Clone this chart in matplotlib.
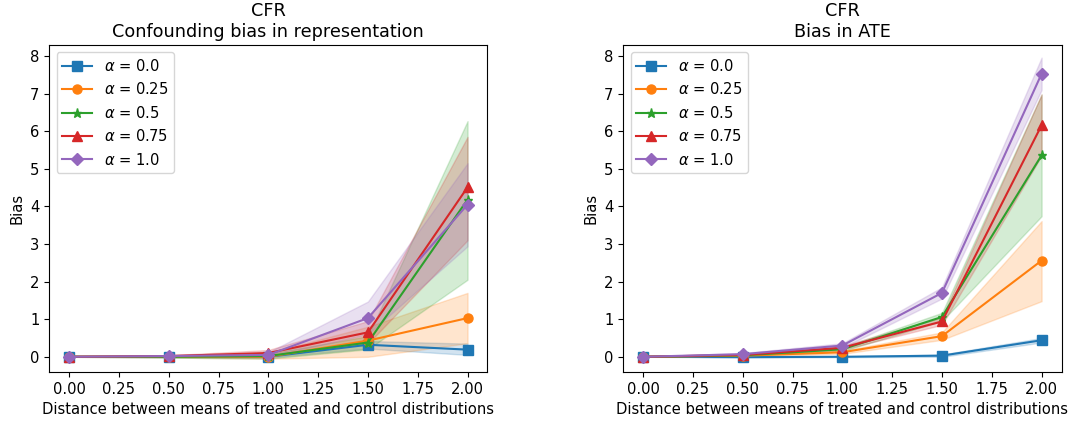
import numpy as np
import matplotlib
matplotlib.use("Agg")
import matplotlib.pyplot as plt

plt.rcParams["font.size"] = 10.6

distances = [0.0, 0.5, 1.0, 1.5, 2.0]
alphas = [0.0, 0.25, 0.5, 0.75, 1.0]
markers = ["s", "o", "*", "^", "D"]

# confounding bias in representation: mean, lower, upper per alpha
rep_mean = [
    [0.0, 0.0, 0.0, 0.32, 0.19],
    [0.0, 0.0, 0.0, 0.43, 1.03],
    [0.0, 0.0, 0.02, 0.38, 4.18],
    [0.0, 0.02, 0.10, 0.65, 4.51],
    [0.0, 0.02, 0.05, 1.03, 4.05],
]
rep_low = [
    [0.0, -0.02, -0.02, 0.22, 0.05],
    [0.0, -0.02, -0.05, 0.0, 0.36],
    [0.0, -0.02, -0.05, 0.2, 2.05],
    [0.0, 0.0, 0.02, 0.35, 3.10],
    [0.0, 0.0, 0.0, 0.60, 2.94],
]
rep_high = [
    [0.0, 0.02, 0.02, 0.42, 0.35],
    [0.0, 0.02, 0.10, 0.80, 1.70],
    [0.0, 0.02, 0.08, 0.55, 6.27],
    [0.0, 0.04, 0.18, 0.95, 5.85],
    [0.0, 0.04, 0.12, 1.47, 5.15],
]

# bias in ATE
ate_mean = [
    [0.0, -0.01, 0.0, 0.03, 0.44],
    [0.0, 0.03, 0.12, 0.55, 2.56],
    [0.0, 0.04, 0.20, 1.06, 5.36],
    [0.0, 0.05, 0.24, 0.94, 6.16],
    [0.0, 0.07, 0.30, 1.70, 7.53],
]
ate_low = [
    [0.0, -0.02, -0.01, 0.0, 0.38],
    [0.0, 0.01, 0.08, 0.45, 1.48],
    [0.0, 0.02, 0.15, 0.95, 3.74],
    [0.0, 0.03, 0.19, 0.85, 5.35],
    [0.0, 0.04, 0.24, 1.55, 7.10],
]
ate_high = [
    [0.0, 0.0, 0.01, 0.06, 0.50],
    [0.0, 0.05, 0.16, 0.65, 3.61],
    [0.0, 0.06, 0.25, 1.17, 6.98],
    [0.0, 0.07, 0.29, 1.05, 6.98],
    [0.0, 0.10, 0.36, 1.85, 7.96],
]


def draw(ax, title, mean, low, high):
    for i, a in enumerate(alphas):
        line, = ax.plot(distances, mean[i], marker=markers[i], markersize=6.5,
                        label=r"$\alpha$ = " + str(a))
        ax.fill_between(distances, low[i], high[i], color=line.get_color(), alpha=0.2)
    ax.set_title(title)
    ax.set_xlabel("Distance between means of treated and control distributions")
    ax.set_ylabel("Bias")
    ax.set_xticks(np.arange(0, 2.01, 0.25))
    ax.set_yticks(range(0, 9))
    ax.set_ylim(-0.4, 8.3)
    ax.legend(loc="upper left")


fig = plt.figure(figsize=(10.69, 4.23), dpi=100)
ax1 = fig.add_axes([0.046, 0.121, 0.410, 0.773])
ax2 = fig.add_axes([0.583, 0.121, 0.410, 0.773])
draw(ax1, "CFR\nConfounding bias in representation", rep_mean, rep_low, rep_high)
draw(ax2, "CFR\nBias in ATE", ate_mean, ate_low, ate_high)

fig.savefig("out.png", dpi=100)
